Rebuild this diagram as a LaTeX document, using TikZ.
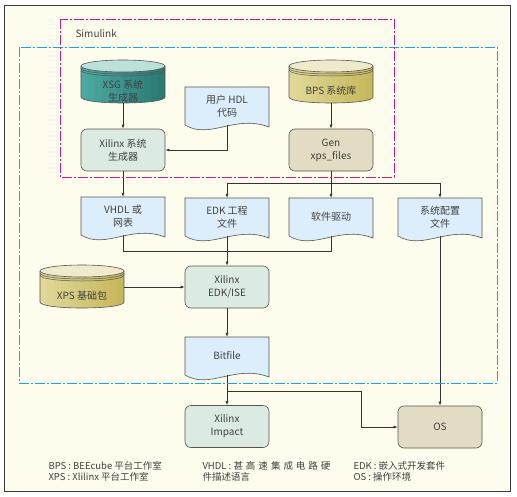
\documentclass[tikz,border=0pt]{standalone}
\usepackage{fontspec}
\setmainfont{Noto Sans CJK SC}
\usetikzlibrary{arrows.meta}

\definecolor{bgcream}{HTML}{FEFCEC}
\definecolor{framegray}{HTML}{3A3A3A}
\definecolor{edgegray}{HTML}{555555}
\definecolor{linegray}{HTML}{333333}
\definecolor{txtgray}{HTML}{404040}
\definecolor{simmagenta}{RGB}{200,32,127}
\definecolor{zonecyan}{RGB}{20,170,220}
\definecolor{docblue}{HTML}{DCEEFB}
\definecolor{procgreen}{HTML}{DCEBE2}
\definecolor{prockhaki}{HTML}{E2DCC2}
\definecolor{tealL}{HTML}{4BA9A0}
\definecolor{tealR}{HTML}{2A7A72}
\definecolor{tealtop}{HTML}{BCE0DA}
\definecolor{khakiL}{HTML}{E0D898}
\definecolor{khakiR}{HTML}{C6B85C}
\definecolor{khakitop}{HTML}{EFEACB}

% cylinder round a centre coordinate: #1 centre, #2/#3 body colours, #4 lid
\newcommand\cylshape[4]{%
    \begin{scope}
      \clip ([shift={(-42,-25)}]#1) -- ([shift={(-42,6)}]#1)
        .. controls +(0,8) and +(0,8) .. ([shift={(42,6)}]#1)
        -- ([shift={(42,-25)}]#1) -- cycle;
      \foreach \k in {0,...,11}
        \fill[#3!\the\numexpr\k*100/11\relax!#2]
          ([shift={(-42+7*\k,-26)}]#1) rectangle ([shift={(-34.5+7*\k,14)}]#1);
    \end{scope}
    \draw[edgegray, line width=0.6pt]
      ([shift={(-42,-25)}]#1) -- ([shift={(-42,6)}]#1)
      .. controls +(0,8) and +(0,8) .. ([shift={(42,6)}]#1)
      -- ([shift={(42,-25)}]#1);
    \draw[edgegray, line width=0.6pt, fill=#4]
      ([shift={(0,-25)}]#1) ellipse [x radius=42pt, y radius=6pt];
    \draw[edgegray, line width=0.5pt] ([shift={(-42,-23)}]#1)
      .. controls +(0,8) and +(0,8) .. ([shift={(42,-23)}]#1);
    \draw[edgegray, line width=0.5pt] ([shift={(-42,-21)}]#1)
      .. controls +(0,8) and +(0,8) .. ([shift={(42,-21)}]#1);}

% document sheet with wavy bottom round a centre coordinate
\newcommand\docshape[1]{%
    \draw[edgegray, line width=0.6pt, fill=docblue]
      ([shift={(-42,-19)}]#1) -- ([shift={(-42,19)}]#1)
      .. controls +(25,15) and +(-34,-13) .. ([shift={(42,21)}]#1)
      -- ([shift={(42,-19)}]#1) -- cycle;}

\begin{document}
\begin{tikzpicture}[
    x=1pt, y=-1pt,
    font=\fontsize{10}{13}\selectfont,
    text=txtgray,
    cyl/.style={minimum width=84pt, minimum height=24pt, inner sep=0pt, align=center},
    doc/.style={minimum width=84pt, minimum height=38pt, inner sep=0pt, align=center},
    proc/.style={draw=edgegray, line width=0.6pt, rounded corners=6pt,
        minimum width=84pt, minimum height=42pt, inner sep=0pt, align=center},
    arr/.style={draw=linegray, line width=0.6pt, -{Latex[length=4pt,width=3pt]}},
    link/.style={draw=linegray, line width=0.6pt},
    zone/.style={line width=1pt, dash pattern=on 10pt off 2pt on 2pt off 2pt},
    legend/.style={anchor=west, align=left, font=\fontsize{9.5}{11}\selectfont}
]
    \useasboundingbox (0,0) rectangle (517,496);
    \draw[framegray, line width=0.6pt, fill=bgcream] (4,5) rectangle (510,491);

    % Centres
    \coordinate (xsgc) at (123,91);
    \coordinate (bpsc) at (331,91);
    \coordinate (xpsc) at (82,296);
    \coordinate (hdlc) at (227,106);
    \coordinate (vhdlc) at (123,216);
    \coordinate (edkc) at (227,217);
    \coordinate (swc) at (331,217);
    \coordinate (cfgc) at (440,217);
    \coordinate (bitc) at (227,356);

    % Sources
    \cylshape{xsgc}{tealL}{tealR}{tealtop}
    \node[cyl] (xsg) at (xsgc) {XSG 系统\\生成器};
    \cylshape{bpsc}{khakiL}{khakiR}{khakitop}
    \node[cyl] (bps) at (bpsc) {BPS 系统库};
    \docshape{hdlc}
    \node[doc] (hdl) at (hdlc) {用户 HDL\\代码};

    % Generators
    \node[proc, fill=procgreen] (sysgen) at (123,150) {Xilinx 系统\\生成器};
    \node[proc, fill=prockhaki] (gen) at (331,150) {Gen\\xps\_files};

    % Generated files
    \docshape{vhdlc}
    \node[doc] (vhdl) at (vhdlc) {VHDL 或\\网表};
    \docshape{edkc}
    \node[doc] (edk) at (edkc) {EDK 工程\\文件};
    \docshape{swc}
    \node[doc] (sw) at (swc) {软件驱动};
    \docshape{cfgc}
    \node[doc] (cfg) at (cfgc) {系统配置\\文件};

    % Implementation
    \cylshape{xpsc}{khakiL}{khakiR}{khakitop}
    \node[cyl] (xps) at (xpsc) {XPS 基础包};
    \node[proc, fill=procgreen] (edkise) at (227,287) {Xilinx\\EDK/ISE};
    \docshape{bitc}
    \node[doc] (bitfile) at (bitc) {Bitfile};
    \node[proc, fill=procgreen] (impact) at (227,426.5) {Xilinx\\Impact};
    \node[proc, fill=prockhaki] (os) at (440,427) {OS};

    % Junctions
    \coordinate (br1) at (331,183);
    \coordinate (mrg) at (227,251);
    \coordinate (br2) at (227,391);
    \coordinate (turn) at (361,427);

    % Connectors
    \draw[arr] (xsg.south) -- (sysgen.north);
    \draw[arr] (hdl.south) |- (sysgen.east);
    \draw[arr] (bps.south) -- (gen.north);
    \draw[arr] (sysgen.south) -- (vhdl.north);
    \draw[arr] (gen.south) -- (sw.north);
    \draw[arr] (br1) -| (edk.north);
    \draw[arr] (br1) -| (cfg.north);
    \draw[link] (vhdl.south) |- (mrg);
    \draw[link] (sw.south) |- (mrg);
    \draw[arr] (edk.south) -- (edkise.north);
    \draw[arr] (xps.east |- edkise.west) -- (edkise.west);
    \draw[arr] (edkise.south) -- (bitfile.north);
    \draw[arr] (bitfile.south) -- (impact.north);
    \draw[arr] (br2) -| (turn) -- (os.west);
    \draw[arr] (cfg.south) -- (os.north);

    % Labels
    \node[anchor=west] (simulink) at (72,34) {Simulink};
    \node[legend] (leg1) at (45,471.5) {BPS : BEEcube 平台工作室\\XPS : Xlilinx 平台工作室};
    \node[legend] (leg2) at (199,471.5) {VHDL : 甚\hspace{3pt}高\hspace{3pt}速\hspace{3pt}集\hspace{3pt}成\hspace{3pt}电\hspace{3pt}路\hspace{3pt}硬\\件描述语言};
    \node[legend] (leg3) at (350,471.5) {EDK : 嵌入式开发套件\\OS : 操作环境};

    % Zones
    \draw[zone, draw=zonecyan] (19,47) rectangle (497,383);
    \draw[zone, draw=simmagenta] (60,19) rectangle (394,177);
\end{tikzpicture}
\end{document}
